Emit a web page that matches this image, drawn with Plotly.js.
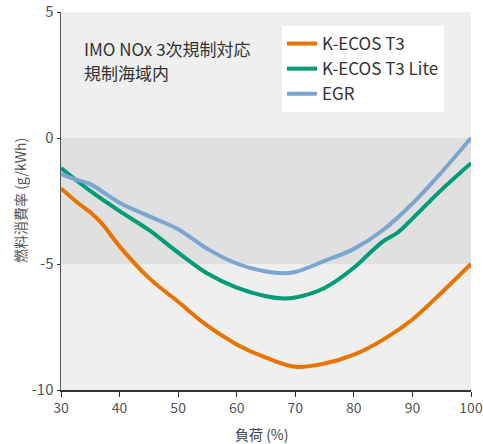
<!DOCTYPE html>
<html>
<head>
<meta charset="utf-8">
<script src="https://cdn.plot.ly/plotly-3.0.1.min.js"></script>
<style>html,body{margin:0;padding:0;background:#fff}#chart{width:483px;height:444px}</style>
</head>
<body>
<div id="chart"></div>
<script>
const loadT3 = [30, 33, 35, 37, 40, 45, 50, 55, 60, 65, 70, 75, 80, 85, 90, 95, 100];
const kecosT3 = [-2.0, -2.6, -2.95, -3.4, -4.3, -5.55, -6.5, -7.45, -8.19, -8.72, -9.08, -8.95, -8.6, -8.0, -7.2, -6.13, -5.0];
const loadLite = [30, 35, 40, 45, 50, 55, 60, 65, 68, 70, 75, 80, 83, 85, 87.5, 90, 95, 100];
const kecosT3Lite = [-1.19, -2.1, -2.9, -3.65, -4.55, -5.38, -5.94, -6.28, -6.37, -6.33, -5.95, -5.15, -4.5, -4.1, -3.75, -3.2, -2.05, -1.0];
const loadEgr = [30, 33, 35, 40, 45, 50, 55, 60, 65, 68, 70, 75, 80, 85, 90, 95, 100];
const egr = [-1.43, -1.68, -1.83, -2.57, -3.1, -3.62, -4.4, -4.98, -5.3, -5.37, -5.32, -4.88, -4.4, -3.65, -2.6, -1.35, 0.0];
const seriesNames = ['K-ECOS T3', 'K-ECOS T3 Lite', 'EGR'];
const xTicks = [30, 40, 50, 60, 70, 80, 90, 100];
const yTicks = [-10, -5, 0, 5];
const noteLines = ['IMO NOx 3次規制対応', '規制海域内'];
const xTitle = '負荷 (%)';
const yTitle = '燃料消費率 (g/kWh)';

const colors = ['#e87300', '#009b77', '#7aa6cf'];
const font = '"Noto Sans CJK JP", "Noto Sans", sans-serif';
const xs = [loadT3, loadLite, loadEgr];
const traces = [kecosT3, kecosT3Lite, egr].map((ys, i) => ({
  x: xs[i], y: ys, name: seriesNames[i], type: 'scatter', mode: 'lines',
  line: {color: colors[i], width: 4, shape: 'spline', smoothing: 1}
}));

const layout = {
  width: 483, height: 444,
  margin: {l: 61, r: 12, t: 12, b: 54},
  paper_bgcolor: '#ffffff', plot_bgcolor: '#efefef',
  font: {family: font, color: '#444', size: 13},
  showlegend: true,
  legend: {x: 0.539, y: 0.963, xanchor: 'left', yanchor: 'top', bgcolor: '#ffffff',
    font: {size: 17, color: '#333'}, tracegroupgap: 0, itemwidth: 30},
  xaxis: {range: [30, 100], tickvals: xTicks, ticktext: xTicks.map(String), showgrid: false, zeroline: false,
    showline: true, linecolor: '#333', linewidth: 1.5, ticks: 'outside', ticklen: 5, tickcolor: '#333',
    tickfont: {size: 14, color: '#555'}},
  yaxis: {range: [-10, 5], tickvals: yTicks, ticktext: yTicks.map(String), showgrid: false, zeroline: false,
    showline: true, linecolor: '#555', linewidth: 1.5, ticks: 'outside', ticklen: 3, tickcolor: '#333',
    tickfont: {size: 15, color: '#555'}},
  shapes: [{type: 'rect', xref: 'paper', yref: 'y', x0: 0, x1: 1, y0: -5, y1: 0,
    fillcolor: '#e0e0e0', line: {width: 0}, layer: 'below'}],
  annotations: [
    {xref: 'paper', yref: 'paper', x: 0.05, y: (390 - 48) / 378, xanchor: 'left', yanchor: 'middle',
      text: noteLines[0], showarrow: false, align: 'left', font: {size: 17, color: '#333'}},
    {xref: 'paper', yref: 'paper', x: 0.05, y: (390 - 72) / 378, xanchor: 'left', yanchor: 'middle',
      text: noteLines[1], showarrow: false, align: 'left', font: {size: 17, color: '#333'}},
    {xref: 'paper', yref: 'paper', x: 0.49, y: (390 - 434) / 378, xanchor: 'center', yanchor: 'middle',
      text: xTitle, showarrow: false, font: {size: 14, color: '#444'}},
    {xref: 'paper', yref: 'paper', x: -0.1, y: 0.5, xanchor: 'center', yanchor: 'middle',
      text: yTitle, showarrow: false, textangle: -90, font: {size: 14, color: '#555'}}
  ]
};
Plotly.newPlot('chart', traces, layout, {displayModeBar: false, staticPlot: true});
</script>
</body>
</html>
